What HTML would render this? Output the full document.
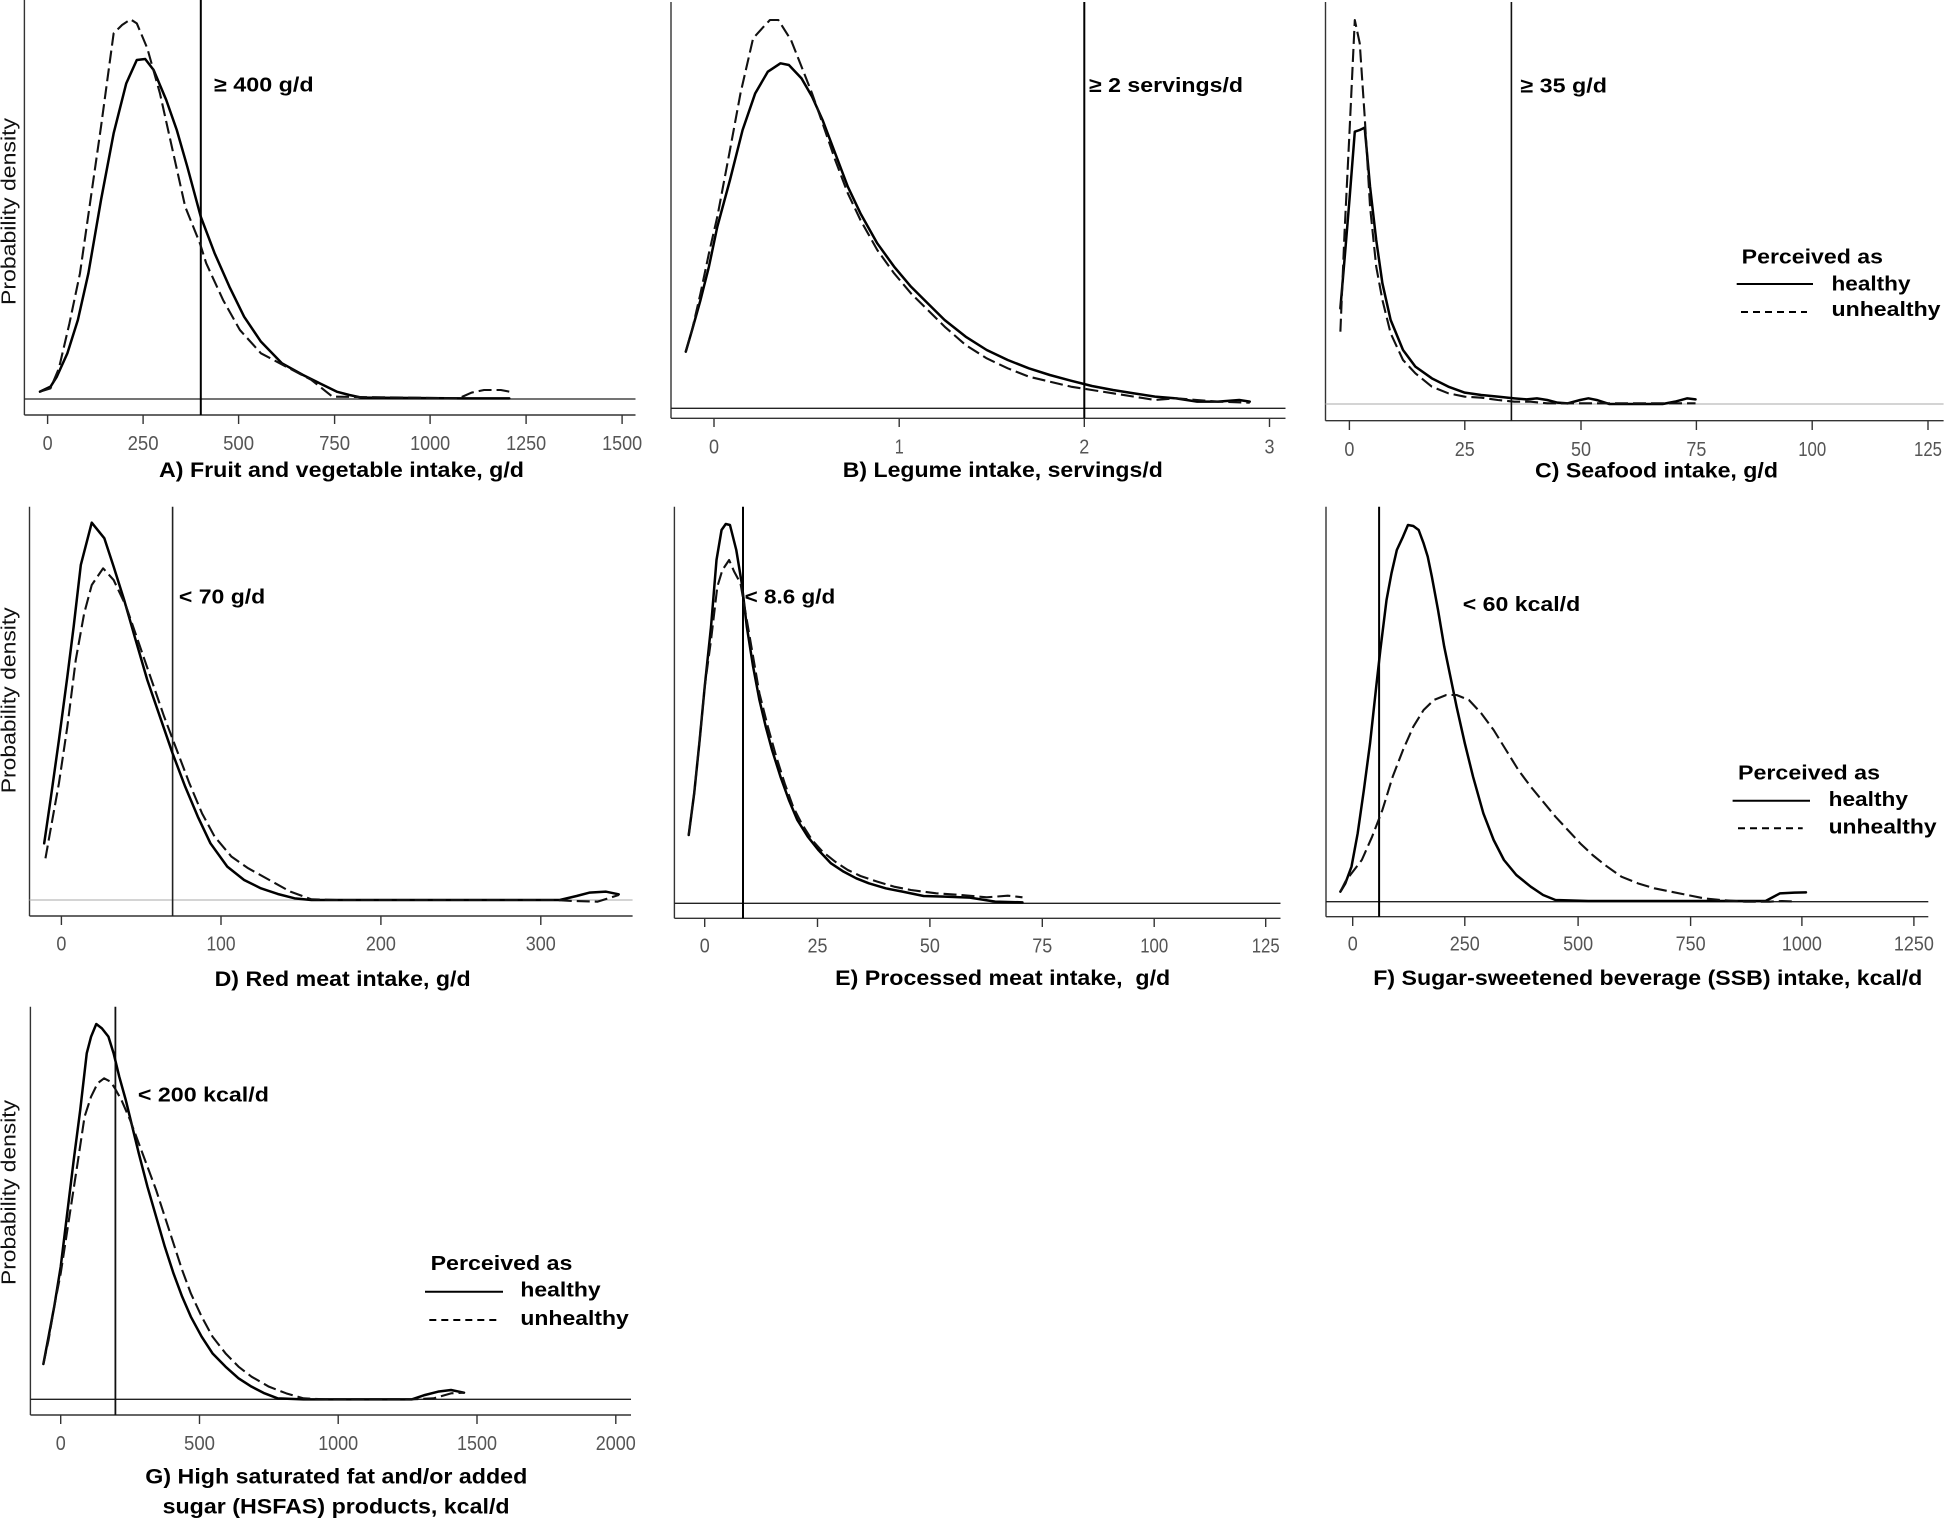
<!DOCTYPE html>
<html><head><meta charset="utf-8"><style>
html,body{margin:0;padding:0;background:#fff;}
svg{display:block;}
.t{font-family:"Liberation Sans",Arial,sans-serif;font-weight:bold;fill:#000;}
.tk{font-family:"Liberation Sans",Arial,sans-serif;font-size:20px;fill:#555;text-anchor:middle;}
.yl{font-family:"Liberation Sans",Arial,sans-serif;font-size:20px;fill:#111;text-anchor:middle;}
.ax{stroke:#333;stroke-width:1.4;fill:none;}
.s{fill:none;stroke:#000;stroke-width:2.5;stroke-linejoin:round;stroke-linecap:round;vector-effect:non-scaling-stroke;}
.d{fill:none;stroke:#111;stroke-width:2.1;stroke-dasharray:13 5;stroke-linejoin:round;vector-effect:non-scaling-stroke;}
</style></head><body>
<svg width="1946" height="1520" viewBox="0 0 1946 1520" xmlns="http://www.w3.org/2000/svg">
<rect width="1946" height="1520" fill="#fff"/>

<!-- ========== PANEL A ========== -->
<line class="ax" x1="24.4" y1="0" x2="24.4" y2="415"/>
<line class="ax" x1="24.4" y1="415" x2="635.5" y2="415"/>
<line x1="24.4" y1="399" x2="635.5" y2="399" stroke="#222" stroke-width="1.3"/>
<line x1="200.8" y1="0" x2="200.8" y2="415" stroke="#000" stroke-width="2"/>
<g class="ax">
<line x1="47.6" y1="415" x2="47.6" y2="424"/><line x1="143.1" y1="415" x2="143.1" y2="424"/><line x1="238.6" y1="415" x2="238.6" y2="424"/><line x1="334.6" y1="415" x2="334.6" y2="424"/><line x1="430.1" y1="415" x2="430.1" y2="424"/><line x1="526.1" y1="415" x2="526.1" y2="424"/><line x1="622.1" y1="415" x2="622.1" y2="424"/>
</g>
<text class="tk" x="47.6" y="450" textLength="10" lengthAdjust="spacingAndGlyphs">0</text>
<text class="tk" x="143.1" y="450" textLength="31" lengthAdjust="spacingAndGlyphs">250</text>
<text class="tk" x="238.6" y="450" textLength="31" lengthAdjust="spacingAndGlyphs">500</text>
<text class="tk" x="334.6" y="450" textLength="31" lengthAdjust="spacingAndGlyphs">750</text>
<text class="tk" x="430.1" y="450" textLength="40" lengthAdjust="spacingAndGlyphs">1000</text>
<text class="tk" x="526.1" y="450" textLength="40" lengthAdjust="spacingAndGlyphs">1250</text>
<text class="tk" x="622.1" y="450" textLength="40" lengthAdjust="spacingAndGlyphs">1500</text>
<text class="t" x="214" y="91.5" font-size="20.5" textLength="99.6" lengthAdjust="spacingAndGlyphs">≥ 400 g/d</text>
<text class="t" x="159" y="477" font-size="21.5" textLength="365" lengthAdjust="spacingAndGlyphs">A) Fruit and vegetable intake, g/d</text>
<text class="yl" x="0" y="0" transform="translate(15.5 211.5) rotate(-90)" textLength="187" lengthAdjust="spacingAndGlyphs">Probability density</text>
<g transform="translate(0,0) scale(0.42088,0.33333)">
<polyline class="s" points="95,1175 120,1160 135,1130 160,1060 185,960 210,820 240,600 270,400 300,250 325,180 345,177 365,210 395,300 420,390 445,500 477,650 510,760 545,860 580,950 620,1025 670,1090 720,1125 760,1150 800,1175 830,1185 860,1193 1100,1195 1210,1195"/>
<polyline class="d" points="95,1175 120,1165 140,1105 165,970 190,820 215,600 240,380 270,100 290,75 310,58 325,70 350,145 380,280 410,450 440,620 475,730 490,790 530,900 570,990 620,1060 680,1100 740,1140 790,1190 1090,1195 1120,1178 1150,1170 1190,1170 1210,1175"/>
</g>

<!-- ========== PANEL B ========== -->
<line class="ax" x1="671" y1="2" x2="671" y2="418.3"/>
<line class="ax" x1="671" y1="418.3" x2="1285.5" y2="418.3"/>
<line x1="671" y1="408.3" x2="1285.5" y2="408.3" stroke="#222" stroke-width="1.3"/>
<line x1="1084.3" y1="2" x2="1084.3" y2="418.3" stroke="#000" stroke-width="2"/>
<g class="ax">
<line x1="714" y1="418.3" x2="714" y2="427"/><line x1="899.2" y1="418.3" x2="899.2" y2="427"/><line x1="1084.3" y1="418.3" x2="1084.3" y2="427"/><line x1="1269.5" y1="418.3" x2="1269.5" y2="427"/>
</g>
<text class="tk" x="714" y="453.3" textLength="10" lengthAdjust="spacingAndGlyphs">0</text>
<text class="tk" x="899.2" y="453.3" textLength="9" lengthAdjust="spacingAndGlyphs">1</text>
<text class="tk" x="1084.3" y="453.3" textLength="10" lengthAdjust="spacingAndGlyphs">2</text>
<text class="tk" x="1269.5" y="453.3" textLength="10" lengthAdjust="spacingAndGlyphs">3</text>
<text class="t" x="1089" y="92" font-size="20.5" textLength="154" lengthAdjust="spacingAndGlyphs">≥ 2 servings/d</text>
<text class="t" x="842.8" y="477" font-size="21.5" textLength="320" lengthAdjust="spacingAndGlyphs">B) Legume intake, servings/d</text>
<g transform="translate(650,0) scale(0.42088,0.33333)">
<polyline class="s" points="85,1055 100,990 120,900 140,800 160,680 190,540 220,390 250,280 280,215 310,190 330,195 360,235 385,290 410,360 440,460 470,560 500,640 540,730 580,800 620,860 660,910 700,960 750,1010 800,1050 850,1080 900,1105 950,1125 1000,1142 1050,1158 1100,1170 1150,1180 1200,1190 1250,1195 1300,1205 1350,1205 1400,1200 1425,1205"/>
<polyline class="d" points="85,1055 100,990 120,880 140,760 160,650 190,450 215,280 245,115 270,80 285,60 305,60 335,120 360,200 385,280 410,370 440,480 470,580 500,660 540,750 580,820 620,880 660,930 700,980 750,1035 800,1075 850,1105 900,1130 950,1145 1000,1160 1050,1170 1100,1180 1150,1190 1200,1200 1250,1195 1300,1200 1350,1205 1425,1208"/>
</g>

<!-- ========== PANEL C ========== -->
<line class="ax" x1="1325.5" y1="2" x2="1325.5" y2="420.7"/>
<line class="ax" x1="1325.5" y1="420.7" x2="1943.6" y2="420.7"/>
<line x1="1325.5" y1="404" x2="1943.6" y2="404" stroke="#bbb" stroke-width="1.3"/>
<line x1="1511.4" y1="2" x2="1511.4" y2="420.7" stroke="#111" stroke-width="1.6"/>
<g class="ax">
<line x1="1349.4" y1="420.7" x2="1349.4" y2="430"/><line x1="1464.8" y1="420.7" x2="1464.8" y2="430"/><line x1="1581" y1="420.7" x2="1581" y2="430"/><line x1="1696.4" y1="420.7" x2="1696.4" y2="430"/><line x1="1812.2" y1="420.7" x2="1812.2" y2="430"/><line x1="1928" y1="420.7" x2="1928" y2="430"/>
</g>
<text class="tk" x="1349.4" y="456" textLength="10" lengthAdjust="spacingAndGlyphs">0</text>
<text class="tk" x="1464.8" y="456" textLength="20" lengthAdjust="spacingAndGlyphs">25</text>
<text class="tk" x="1581" y="456" textLength="20" lengthAdjust="spacingAndGlyphs">50</text>
<text class="tk" x="1696.4" y="456" textLength="20" lengthAdjust="spacingAndGlyphs">75</text>
<text class="tk" x="1812.2" y="456" textLength="28" lengthAdjust="spacingAndGlyphs">100</text>
<text class="tk" x="1928" y="456" textLength="28" lengthAdjust="spacingAndGlyphs">125</text>
<text class="t" x="1520.4" y="92.7" font-size="20.5" textLength="86.6" lengthAdjust="spacingAndGlyphs">≥ 35 g/d</text>
<text class="t" x="1535" y="477.3" font-size="21.5" textLength="243" lengthAdjust="spacingAndGlyphs">C) Seafood intake, g/d</text>
<text class="t" x="1741.7" y="263.3" font-size="20" textLength="141.3" lengthAdjust="spacingAndGlyphs">Perceived as</text>
<line x1="1736.7" y1="284" x2="1813" y2="284" stroke="#000" stroke-width="2"/>
<text class="t" x="1831.5" y="290.5" font-size="20" textLength="79" lengthAdjust="spacingAndGlyphs">healthy</text>
<line x1="1741" y1="312" x2="1807" y2="312" stroke="#000" stroke-width="2" stroke-dasharray="7 5"/>
<text class="t" x="1831.5" y="316" font-size="20" textLength="109" lengthAdjust="spacingAndGlyphs">unhealthy</text>
<g transform="translate(1300,0) scale(0.41203,0.33333)">
<polyline class="s" points="98,925 110,750 120,600 133,395 145,390 157,383 170,560 185,720 200,850 220,960 250,1050 280,1100 320,1135 360,1160 400,1178 440,1185 480,1190 520,1195 550,1198 575,1195 600,1200 625,1208 650,1210 680,1200 700,1195 720,1200 750,1212 800,1212 880,1212 910,1205 940,1195 960,1198"/>
<polyline class="d" points="98,995 108,700 120,400 133,60 145,130 157,350 170,620 185,800 200,900 220,1000 250,1080 280,1120 320,1160 360,1180 400,1190 440,1193 480,1200 520,1205 560,1205 600,1210 700,1210 800,1210 960,1210"/>
</g>

<!-- ========== PANEL D ========== -->
<line class="ax" x1="29.5" y1="506.7" x2="29.5" y2="916"/>
<line class="ax" x1="29.5" y1="916" x2="632.6" y2="916"/>
<line x1="29.5" y1="900" x2="632.6" y2="900" stroke="#bbb" stroke-width="1.3"/>
<line x1="172.6" y1="506.7" x2="172.6" y2="916" stroke="#222" stroke-width="1.6"/>
<g class="ax">
<line x1="61.4" y1="916" x2="61.4" y2="925"/><line x1="221" y1="916" x2="221" y2="925"/><line x1="380.9" y1="916" x2="380.9" y2="925"/><line x1="540.8" y1="916" x2="540.8" y2="925"/>
</g>
<text class="tk" x="61.4" y="950.7" textLength="10" lengthAdjust="spacingAndGlyphs">0</text>
<text class="tk" x="221" y="950.7" textLength="29" lengthAdjust="spacingAndGlyphs">100</text>
<text class="tk" x="380.9" y="950.7" textLength="30" lengthAdjust="spacingAndGlyphs">200</text>
<text class="tk" x="540.8" y="950.7" textLength="30" lengthAdjust="spacingAndGlyphs">300</text>
<text class="t" x="178.9" y="603.3" font-size="20.5" textLength="86.3" lengthAdjust="spacingAndGlyphs">&lt; 70 g/d</text>
<text class="t" x="214.6" y="986" font-size="21.5" textLength="256" lengthAdjust="spacingAndGlyphs">D) Red meat intake, g/d</text>
<text class="yl" x="0" y="0" transform="translate(15.5 700.3) rotate(-90)" textLength="186" lengthAdjust="spacingAndGlyphs">Probability density</text>
<g transform="translate(0,500) scale(0.42088,0.33333)">
<polyline class="s" points="105,1030 120,900 140,720 160,530 175,380 192,195 218,68 248,115 270,200 295,300 320,410 350,540 380,650 410,760 440,860 470,950 500,1030 540,1100 580,1140 620,1165 660,1182 700,1195 740,1200 1330,1200 1370,1188 1400,1178 1440,1175 1470,1183"/>
<polyline class="d" points="108,1075 120,990 140,850 160,680 180,480 200,340 218,255 245,205 270,240 300,320 330,430 360,540 390,650 420,750 450,850 480,940 510,1010 550,1070 590,1105 640,1140 690,1175 740,1198 800,1200 1320,1200 1360,1203 1420,1205 1445,1195 1470,1185"/>
</g>

<!-- ========== PANEL E ========== -->
<line class="ax" x1="674.4" y1="506.7" x2="674.4" y2="918.3"/>
<line class="ax" x1="674.4" y1="918.3" x2="1280.5" y2="918.3"/>
<line x1="674.4" y1="903.3" x2="1280.5" y2="903.3" stroke="#222" stroke-width="1.3"/>
<line x1="743" y1="506.7" x2="743" y2="918.3" stroke="#000" stroke-width="2"/>
<g class="ax">
<line x1="704.7" y1="918.3" x2="704.7" y2="927"/><line x1="817.5" y1="918.3" x2="817.5" y2="927"/><line x1="929.9" y1="918.3" x2="929.9" y2="927"/><line x1="1042.3" y1="918.3" x2="1042.3" y2="927"/><line x1="1154.2" y1="918.3" x2="1154.2" y2="927"/><line x1="1265.7" y1="918.3" x2="1265.7" y2="927"/>
</g>
<text class="tk" x="704.7" y="952.7" textLength="10" lengthAdjust="spacingAndGlyphs">0</text>
<text class="tk" x="817.5" y="952.7" textLength="20" lengthAdjust="spacingAndGlyphs">25</text>
<text class="tk" x="929.9" y="952.7" textLength="20" lengthAdjust="spacingAndGlyphs">50</text>
<text class="tk" x="1042.3" y="952.7" textLength="20" lengthAdjust="spacingAndGlyphs">75</text>
<text class="tk" x="1154.2" y="952.7" textLength="28" lengthAdjust="spacingAndGlyphs">100</text>
<text class="tk" x="1265.7" y="952.7" textLength="28" lengthAdjust="spacingAndGlyphs">125</text>
<text class="t" x="744.7" y="603.3" font-size="20.5" textLength="90.5" lengthAdjust="spacingAndGlyphs">&lt; 8.6 g/d</text>
<text class="t" x="835.2" y="985" font-size="21.5" textLength="335" lengthAdjust="spacingAndGlyphs" style="white-space:pre">E) Processed meat intake,  g/d</text>
<g transform="translate(650,500) scale(0.42088,0.33333)">
<polyline class="s" points="92,1005 105,880 118,720 130,560 145,380 158,180 170,90 180,72 190,75 205,150 218,250 230,380 245,500 260,600 275,680 290,750 310,830 330,900 350,960 375,1010 400,1050 430,1090 460,1115 490,1135 520,1150 560,1165 600,1175 650,1188 700,1190 760,1193 820,1205 885,1207"/>
<polyline class="d" points="92,1005 105,880 118,720 130,560 145,420 160,260 172,210 188,180 200,215 215,250 230,360 245,470 260,580 280,680 300,770 320,850 340,920 360,970 385,1020 410,1055 440,1085 470,1110 500,1128 540,1145 580,1160 620,1170 680,1180 740,1185 800,1192 850,1187 885,1192"/>
</g>

<!-- ========== PANEL F ========== -->
<line class="ax" x1="1326" y1="506.7" x2="1326" y2="916.7"/>
<line class="ax" x1="1326" y1="916.7" x2="1928.3" y2="916.7"/>
<line x1="1326" y1="901.7" x2="1928.3" y2="901.7" stroke="#222" stroke-width="1.3"/>
<line x1="1379.1" y1="506.7" x2="1379.1" y2="916.7" stroke="#000" stroke-width="2"/>
<g class="ax">
<line x1="1352.7" y1="916.7" x2="1352.7" y2="926"/><line x1="1464.8" y1="916.7" x2="1464.8" y2="926"/><line x1="1578.1" y1="916.7" x2="1578.1" y2="926"/><line x1="1690.6" y1="916.7" x2="1690.6" y2="926"/><line x1="1801.9" y1="916.7" x2="1801.9" y2="926"/><line x1="1913.9" y1="916.7" x2="1913.9" y2="926"/>
</g>
<text class="tk" x="1352.7" y="950.7" textLength="10" lengthAdjust="spacingAndGlyphs">0</text>
<text class="tk" x="1464.8" y="950.7" textLength="30" lengthAdjust="spacingAndGlyphs">250</text>
<text class="tk" x="1578.1" y="950.7" textLength="30" lengthAdjust="spacingAndGlyphs">500</text>
<text class="tk" x="1690.6" y="950.7" textLength="30" lengthAdjust="spacingAndGlyphs">750</text>
<text class="tk" x="1801.9" y="950.7" textLength="40" lengthAdjust="spacingAndGlyphs">1000</text>
<text class="tk" x="1913.9" y="950.7" textLength="40" lengthAdjust="spacingAndGlyphs">1250</text>
<text class="t" x="1462.8" y="611" font-size="20.5" textLength="117.4" lengthAdjust="spacingAndGlyphs">&lt; 60 kcal/d</text>
<text class="t" x="1373.3" y="985" font-size="21.5" textLength="549" lengthAdjust="spacingAndGlyphs">F) Sugar-sweetened beverage (SSB) intake, kcal/d</text>
<text class="t" x="1738" y="779.3" font-size="20" textLength="142" lengthAdjust="spacingAndGlyphs">Perceived as</text>
<line x1="1732.6" y1="800.7" x2="1810" y2="800.7" stroke="#000" stroke-width="2"/>
<text class="t" x="1828.6" y="806" font-size="20" textLength="79.4" lengthAdjust="spacingAndGlyphs">healthy</text>
<line x1="1738" y1="828.3" x2="1802.7" y2="828.3" stroke="#000" stroke-width="2" stroke-dasharray="7 5"/>
<text class="t" x="1828.6" y="833.3" font-size="20" textLength="108" lengthAdjust="spacingAndGlyphs">unhealthy</text>
<g transform="translate(1300,500) scale(0.41203,0.33333)">
<polyline class="s" points="98,1175 110,1150 125,1100 140,1000 155,870 170,730 185,560 195,450 210,300 222,220 235,150 250,110 262,75 275,78 288,90 300,130 310,170 320,230 335,330 350,440 365,530 380,620 400,730 420,830 445,940 470,1020 495,1080 525,1125 560,1160 590,1185 620,1200 700,1203 1130,1203 1150,1190 1165,1180 1200,1178 1228,1177"/>
<polyline class="d" points="98,1175 110,1145 125,1120 150,1080 175,1010 200,930 225,830 250,750 275,680 300,630 325,600 355,585 380,585 410,600 440,640 470,690 500,750 530,810 560,860 590,905 620,950 650,990 680,1030 710,1065 740,1095 780,1130 820,1150 860,1165 900,1175 940,1185 980,1195 1020,1200 1080,1205 1140,1205 1170,1203 1205,1205"/>
</g>

<!-- ========== PANEL G ========== -->
<line class="ax" x1="30.4" y1="1006.7" x2="30.4" y2="1415"/>
<line class="ax" x1="30.4" y1="1415" x2="631" y2="1415"/>
<line x1="30.4" y1="1399.3" x2="631" y2="1399.3" stroke="#222" stroke-width="1.3"/>
<line x1="115.4" y1="1006.7" x2="115.4" y2="1415" stroke="#111" stroke-width="1.8"/>
<g class="ax">
<line x1="60.7" y1="1415" x2="60.7" y2="1424"/><line x1="199.5" y1="1415" x2="199.5" y2="1424"/><line x1="338.2" y1="1415" x2="338.2" y2="1424"/><line x1="477" y1="1415" x2="477" y2="1424"/><line x1="615.8" y1="1415" x2="615.8" y2="1424"/>
</g>
<text class="tk" x="60.7" y="1450" textLength="10" lengthAdjust="spacingAndGlyphs">0</text>
<text class="tk" x="199.5" y="1450" textLength="31" lengthAdjust="spacingAndGlyphs">500</text>
<text class="tk" x="338.2" y="1450" textLength="40" lengthAdjust="spacingAndGlyphs">1000</text>
<text class="tk" x="477" y="1450" textLength="40" lengthAdjust="spacingAndGlyphs">1500</text>
<text class="tk" x="615.8" y="1450" textLength="40" lengthAdjust="spacingAndGlyphs">2000</text>
<text class="t" x="137.9" y="1101.7" font-size="20.5" textLength="131" lengthAdjust="spacingAndGlyphs">&lt; 200 kcal/d</text>
<text class="t" x="145.3" y="1483.3" font-size="21.5" textLength="382" lengthAdjust="spacingAndGlyphs">G) High saturated fat and/or added</text>
<text class="t" x="162.6" y="1513.3" font-size="21.5" textLength="347" lengthAdjust="spacingAndGlyphs">sugar (HSFAS) products, kcal/d</text>
<text class="yl" x="0" y="0" transform="translate(15.5 1192.5) rotate(-90)" textLength="185" lengthAdjust="spacingAndGlyphs">Probability density</text>
<text class="t" x="430.6" y="1270" font-size="20" textLength="141.8" lengthAdjust="spacingAndGlyphs">Perceived as</text>
<line x1="425" y1="1291.7" x2="503" y2="1291.7" stroke="#000" stroke-width="2"/>
<text class="t" x="520.4" y="1296.7" font-size="20" textLength="80.2" lengthAdjust="spacingAndGlyphs">healthy</text>
<line x1="429.3" y1="1320" x2="496.8" y2="1320" stroke="#000" stroke-width="2" stroke-dasharray="7 5"/>
<text class="t" x="520.4" y="1325" font-size="20" textLength="108.4" lengthAdjust="spacingAndGlyphs">unhealthy</text>
<g transform="translate(0,1000) scale(0.43367,0.33333)">
<polyline class="s" points="100,1092 112,1010 125,920 140,800 155,640 170,480 185,330 200,160 210,110 222,72 235,85 250,110 262,160 275,230 290,300 305,380 320,460 340,560 360,650 380,740 400,820 420,890 440,950 465,1010 490,1060 520,1100 550,1135 580,1160 610,1180 640,1195 700,1198 950,1198 980,1185 1010,1175 1040,1170 1070,1178"/>
<polyline class="d" points="100,1092 112,1020 125,920 140,820 160,650 180,480 195,350 210,290 225,250 240,235 255,245 265,265 280,300 300,360 320,430 340,500 360,570 380,650 400,730 420,810 440,880 465,950 490,1010 520,1060 550,1100 580,1130 620,1160 660,1180 700,1195 750,1198 950,1198 1000,1195 1040,1180 1070,1178"/>
</g>
</svg>
</body></html>
